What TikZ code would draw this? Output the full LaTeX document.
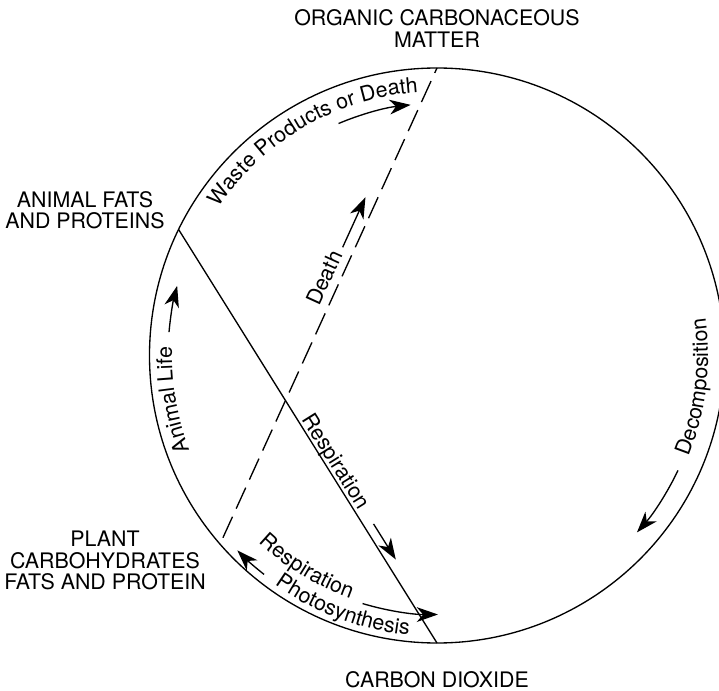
\documentclass[tikz,border=0pt]{standalone}
\usepackage{fontspec}
\setmainfont{TeX Gyre Heros}
\usetikzlibrary{arrows.meta, decorations.text}

\newcommand{\lblfont}{\fontsize{15.2}{15.2}\selectfont}

\begin{document}
\begin{tikzpicture}[
    x=0.025cm, y=0.025cm,
    font=\lblfont,
    place/.style={align=center, inner sep=0pt},
    ring/.style={line width=0.95pt},
    chord/.style={line width=0.95pt, dash pattern=on 16.4pt off 6.3pt, dash phase=17.7pt},
    flow/.style={draw, -{Stealth[length=15pt, width=10.5pt, inset=4.5pt]}, line width=0.95pt},
    curved/.style={decorate, decoration={text along path, text align=center, text={|\lblfont|#1}}}
  ]
  \useasboundingbox (-437,-335.5) rectangle (282,355.5);
  \def\ringr{287.5}

  % the cycle and the points where the chords meet it
  \draw[ring] (0,0) circle[radius=\ringr];
  \coordinate (c_organic) at (90:\ringr);
  \coordinate (c_animal) at (154:\ringr);
  \coordinate (c_plant) at (221:\ringr);
  \coordinate (c_co2) at (270:\ringr);

  % station names round the outside
  \node[place] (l_organic) at (0,327) {ORGANIC CARBONACEOUS\\MATTER};
  \node[place] (l_animal) at (-352,145.5) {ANIMAL FATS\\AND PROTEINS};
  \node[place] (l_plant) at (-332,-205) {PLANT\\CARBOHYDRATES\\FATS AND PROTEIN};
  \node[place] (l_co2) at (0,-324.5) {CARBON DIOXIDE};

  % chords
  \draw[ring] (c_animal) -- (c_co2);
  \draw[chord] (c_plant) -- (c_organic);

  % labels bent along the rim
  \path[curved={Waste Products or Death}] (150:264) arc[start angle=150, end angle=90, radius=264];
  \path[curved={Animal Life}] (205:265) arc[start angle=205, end angle=174, radius=265];
  \path[curved={Decomposition}] (-25:271) arc[start angle=-25, end angle=11, radius=271];
  \path[curved={Respiration}] (223.4:258) arc[start angle=223.4, end angle=253.4, radius=258];
  \path[curved={Photosynthesis}] (233:281) arc[start angle=233, end angle=266, radius=281];

  % arrows along the rim
  \draw[flow] (113:252) arc[start angle=113, end angle=96, radius=252];
  \draw[flow] (175:269) arc[start angle=175, end angle=165, radius=269];
  \draw[flow] (-25.5:267) arc[start angle=-25.5, end angle=-41.5, radius=267];
  \draw[flow] (231.7:279) arc[start angle=231.7, end angle=224.3, radius=279];
  \draw[flow] (253.3:259) arc[start angle=253.3, end angle=270.2, radius=259];

  % respiration along the solid chord
  \begin{scope}[shift={(c_animal)}, rotate=-58, transform shape]
    \node[anchor=base, inner sep=0pt] (t_resp) at (280,4) {Respiration};
    \draw[flow] (353,9.3) -- (395,9.3);
  \end{scope}

  % death along the dashed chord
  \begin{scope}[shift={(c_plant)}, rotate=65.5, transform shape]
    \node[anchor=base, inner sep=0pt] (t_death) at (285.5,8) {Death};
    \draw[flow] (321,11.5) -- (376,11.5);
  \end{scope}
\end{tikzpicture}
\end{document}
